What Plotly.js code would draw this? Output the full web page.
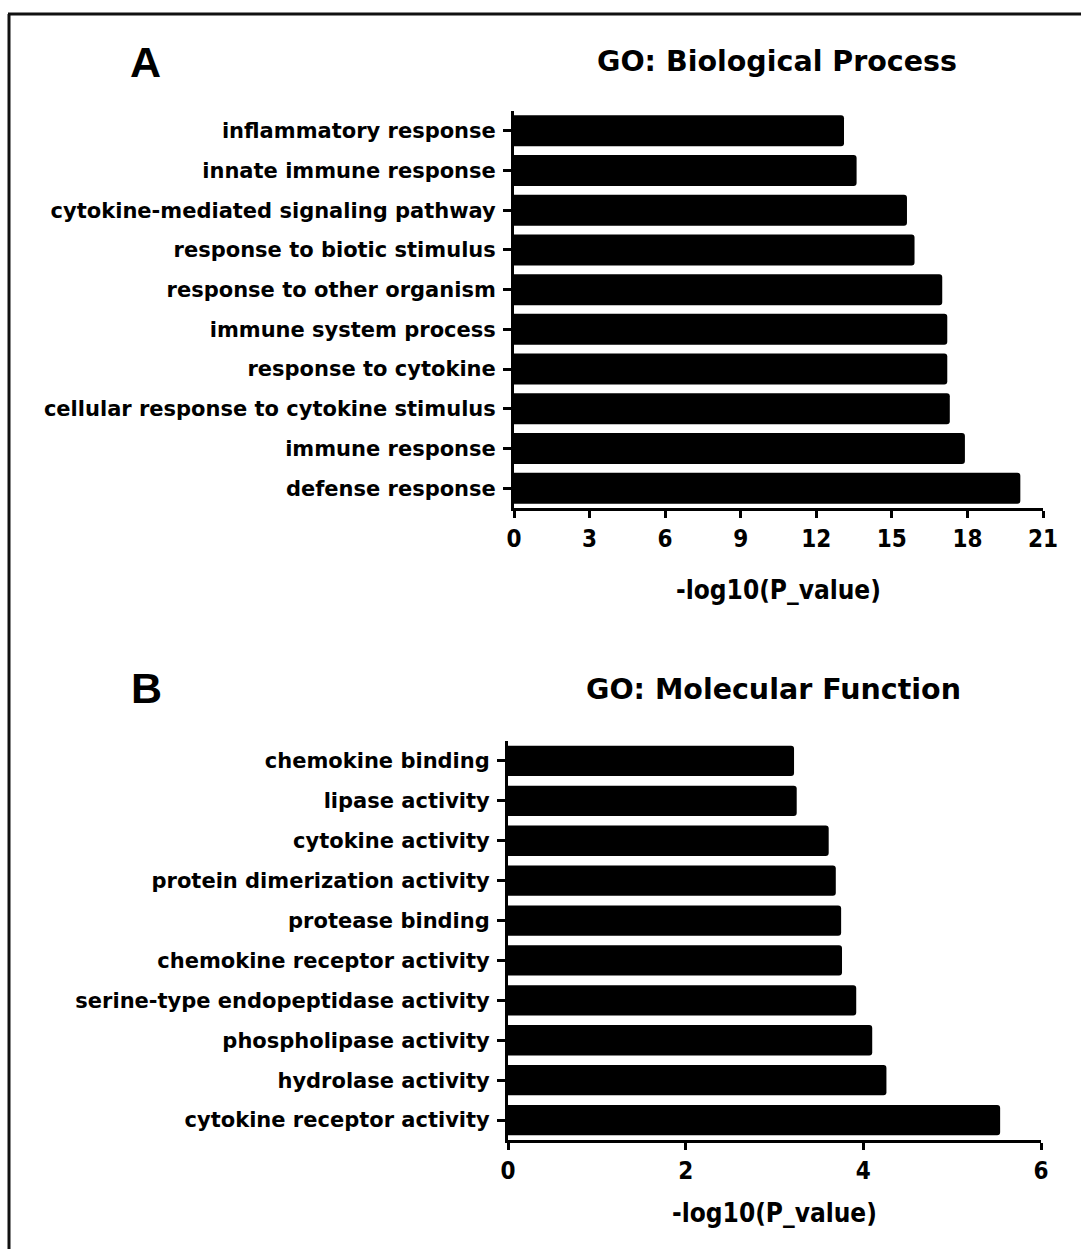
<!DOCTYPE html>
<html>
<head>
<meta charset="utf-8">
<script src="https://cdn.plot.ly/plotly-3.0.1.min.js"></script>
<style>html,body{margin:0;padding:0;background:#fff;}</style>
</head>
<body>
<div id="chart" style="width:1081px;height:1249px;"></div>
<script>
// Panel A: GO Biological Process (top-to-bottom order as shown)
const bpTerms = [
  "inflammatory response",
  "innate immune response",
  "cytokine-mediated signaling pathway",
  "response to biotic stimulus",
  "response to other organism",
  "immune system process",
  "response to cytokine",
  "cellular response to cytokine stimulus",
  "immune response",
  "defense response"
];
const bpValues = [13.1, 13.6, 15.6, 15.9, 17.0, 17.2, 17.2, 17.3, 17.9, 20.1];
const bpTicks = [0, 3, 6, 9, 12, 15, 18, 21];

// Panel B: GO Molecular Function
const mfTerms = [
  "chemokine binding",
  "lipase activity",
  "cytokine activity",
  "protein dimerization activity",
  "protease binding",
  "chemokine receptor activity",
  "serine-type endopeptidase activity",
  "phospholipase activity",
  "hydrolase activity",
  "cytokine receptor activity"
];
const mfValues = [3.22, 3.25, 3.61, 3.69, 3.75, 3.76, 3.92, 4.10, 4.26, 5.54];
const mfTicks = [0, 2, 4, 6];

const W = 1081, H = 1249;
const px = v => v / W;
const py = v => 1 - v / H;

const labelFont = {family: "DejaVu Sans, Liberation Sans, Arial, sans-serif", size: 21, color: "#000", weight: "bold"};
const numFont = {family: "Liberation Sans Narrow, DejaVu Sans Condensed, Arial Narrow, sans-serif", size: 24, color: "#000", weight: "bold"};
const axTitleFont = {family: "Liberation Sans Narrow, DejaVu Sans Condensed, Arial Narrow, sans-serif", size: 26, color: "#000", weight: "bold"};

const traces = [
  {type: "bar", orientation: "h", x: bpValues, y: bpTerms, xaxis: "x", yaxis: "y",
   width: 0.78, marker: {color: "#000", cornerradius: 3, line: {color: "#000", width: 0}},
   hoverinfo: "x+y", showlegend: false},
  {type: "bar", orientation: "h", x: mfValues, y: mfTerms, xaxis: "x2", yaxis: "y2",
   width: 0.76, marker: {color: "#000", cornerradius: 3, line: {color: "#000", width: 0}},
   hoverinfo: "x+y", showlegend: false}
];

function xAxis(domain, anchor, ticks, range, standoff) {
  return {
    domain: domain, anchor: anchor, range: range,
    tickmode: "array", tickvals: ticks, ticktext: ticks.map(String),
    showgrid: false, zeroline: false,
    showline: true, linecolor: "#000", linewidth: 3,
    ticks: "outside", ticklen: 7, tickwidth: 3, tickcolor: "#000",
    tickfont: numFont,
    title: {text: "-log10(P_value)", font: axTitleFont, standoff: standoff},
    fixedrange: true
  };
}
function yAxis(domain, anchor) {
  return {
    domain: domain, anchor: anchor, type: "category", autorange: "reversed",
    showgrid: false, zeroline: false,
    showline: true, linecolor: "#000", linewidth: 3,
    ticks: "outside", ticklen: 8, tickwidth: 3, tickcolor: "#000",
    tickfont: labelFont, ticklabelstandoff: 3,
    fixedrange: true
  };
}

function ann(text, x, y, size, family) {
  return {text: text, x: px(x), y: py(y), xref: "paper", yref: "paper", showarrow: false,
          xanchor: "center", yanchor: "middle",
          font: {family: family, size: size, color: "#000", weight: "bold"}};
}

const layout = {
  width: W, height: H,
  margin: {l: 0, r: 0, t: 0, b: 0},
  paper_bgcolor: "#fff", plot_bgcolor: "#fff",
  bargap: 0.22,
  xaxis: xAxis([px(514), px(1043)], "y", bpTicks, [0, 21], 30),
  yaxis: yAxis([py(508), py(111)], "x"),
  xaxis2: xAxis([px(508), px(1041)], "y2", mfTicks, [0, 6], 21),
  yaxis2: yAxis([py(1140), py(741)], "x2"),
  annotations: [
    ann("A", 145, 62, 43, "Liberation Sans, Arial, sans-serif"),
    ann("B", 146, 688, 43, "Liberation Sans, Arial, sans-serif"),
    ann("GO: Biological Process", 777, 62, 28.5, "DejaVu Sans, Liberation Sans, Arial, sans-serif"),
    ann("GO: Molecular Function", 773, 689, 28.5, "DejaVu Sans, Liberation Sans, Arial, sans-serif")
  ],
  shapes: [
    {type: "line", xref: "paper", yref: "paper", x0: px(9), x1: px(9), y0: py(1260), y1: py(14),
     line: {color: "#111", width: 3}},
    {type: "line", xref: "paper", yref: "paper", x0: px(8), x1: px(1090), y0: py(14), y1: py(14),
     line: {color: "#111", width: 3}}
  ]
};

Plotly.newPlot("chart", traces, layout, {displayModeBar: false, staticPlot: true});
</script>
</body>
</html>
